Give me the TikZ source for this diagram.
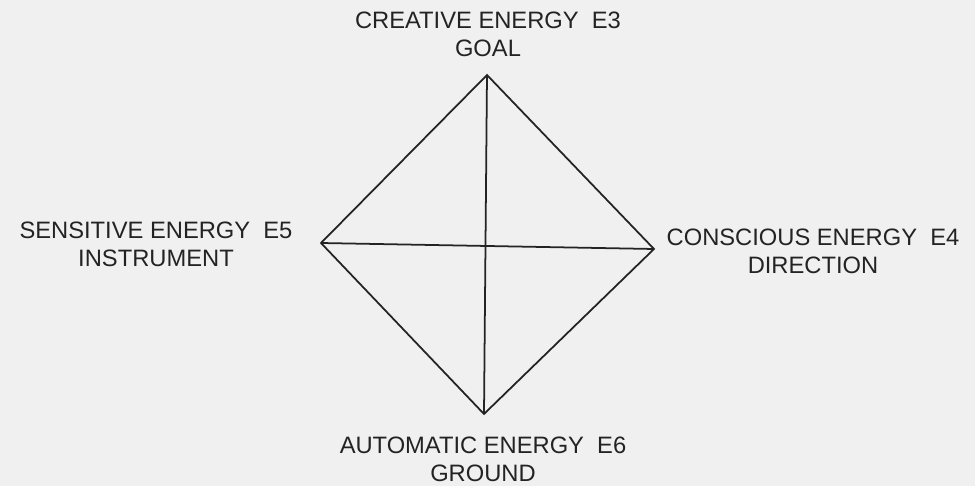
\documentclass[tikz,border=0pt]{standalone}
\usepackage{fontspec}
\setmainfont{Liberation Sans}
\usepackage{xcolor}
\usetikzlibrary{positioning}
\definecolor{paperGray}{RGB}{240,240,240}
\definecolor{inkDark}{RGB}{35,35,35}
\tikzset{
  energylabel/.style={
    align=center, text=inkDark, font=\fontsize{13.5}{16}\selectfont
  },
  diamondline/.style={draw=inkDark, line width=1pt, line join=miter}
}

\begin{document}
\begin{tikzpicture}
        % page and margins
        \fill[paperGray] (0,0) rectangle (19.5,9.72);
        \useasboundingbox (0,0) rectangle (19.5,9.72);
        % corners of the diamond
        \coordinate (top) at (9.74,8.22);
        \coordinate (bottom) at (9.68,1.44);
        \coordinate (left) at (6.42,4.86);
        \coordinate (right) at (13.08,4.74);
        \draw[diamondline] (top) -- (right) -- (bottom) -- (left) -- cycle;
        \draw[diamondline] (top) -- (bottom);
        \draw[diamondline] (left) -- (right);
        % labels
        \node[energylabel] (goal) at (9.76,9.04)
          {CREATIVE ENERGY\ \ E3\\GOAL};
        \node[energylabel] (instrument) at (3.12,4.84)
          {SENSITIVE ENERGY\ \ E5\\INSTRUMENT};
        \node[energylabel] (direction) at (16.26,4.70)
          {CONSCIOUS ENERGY\ \ E4\\DIRECTION};
        \node[energylabel] (ground) at (9.66,0.54)
          {AUTOMATIC ENERGY\ \ E6\\GROUND};
      \end{tikzpicture}
\end{document}
